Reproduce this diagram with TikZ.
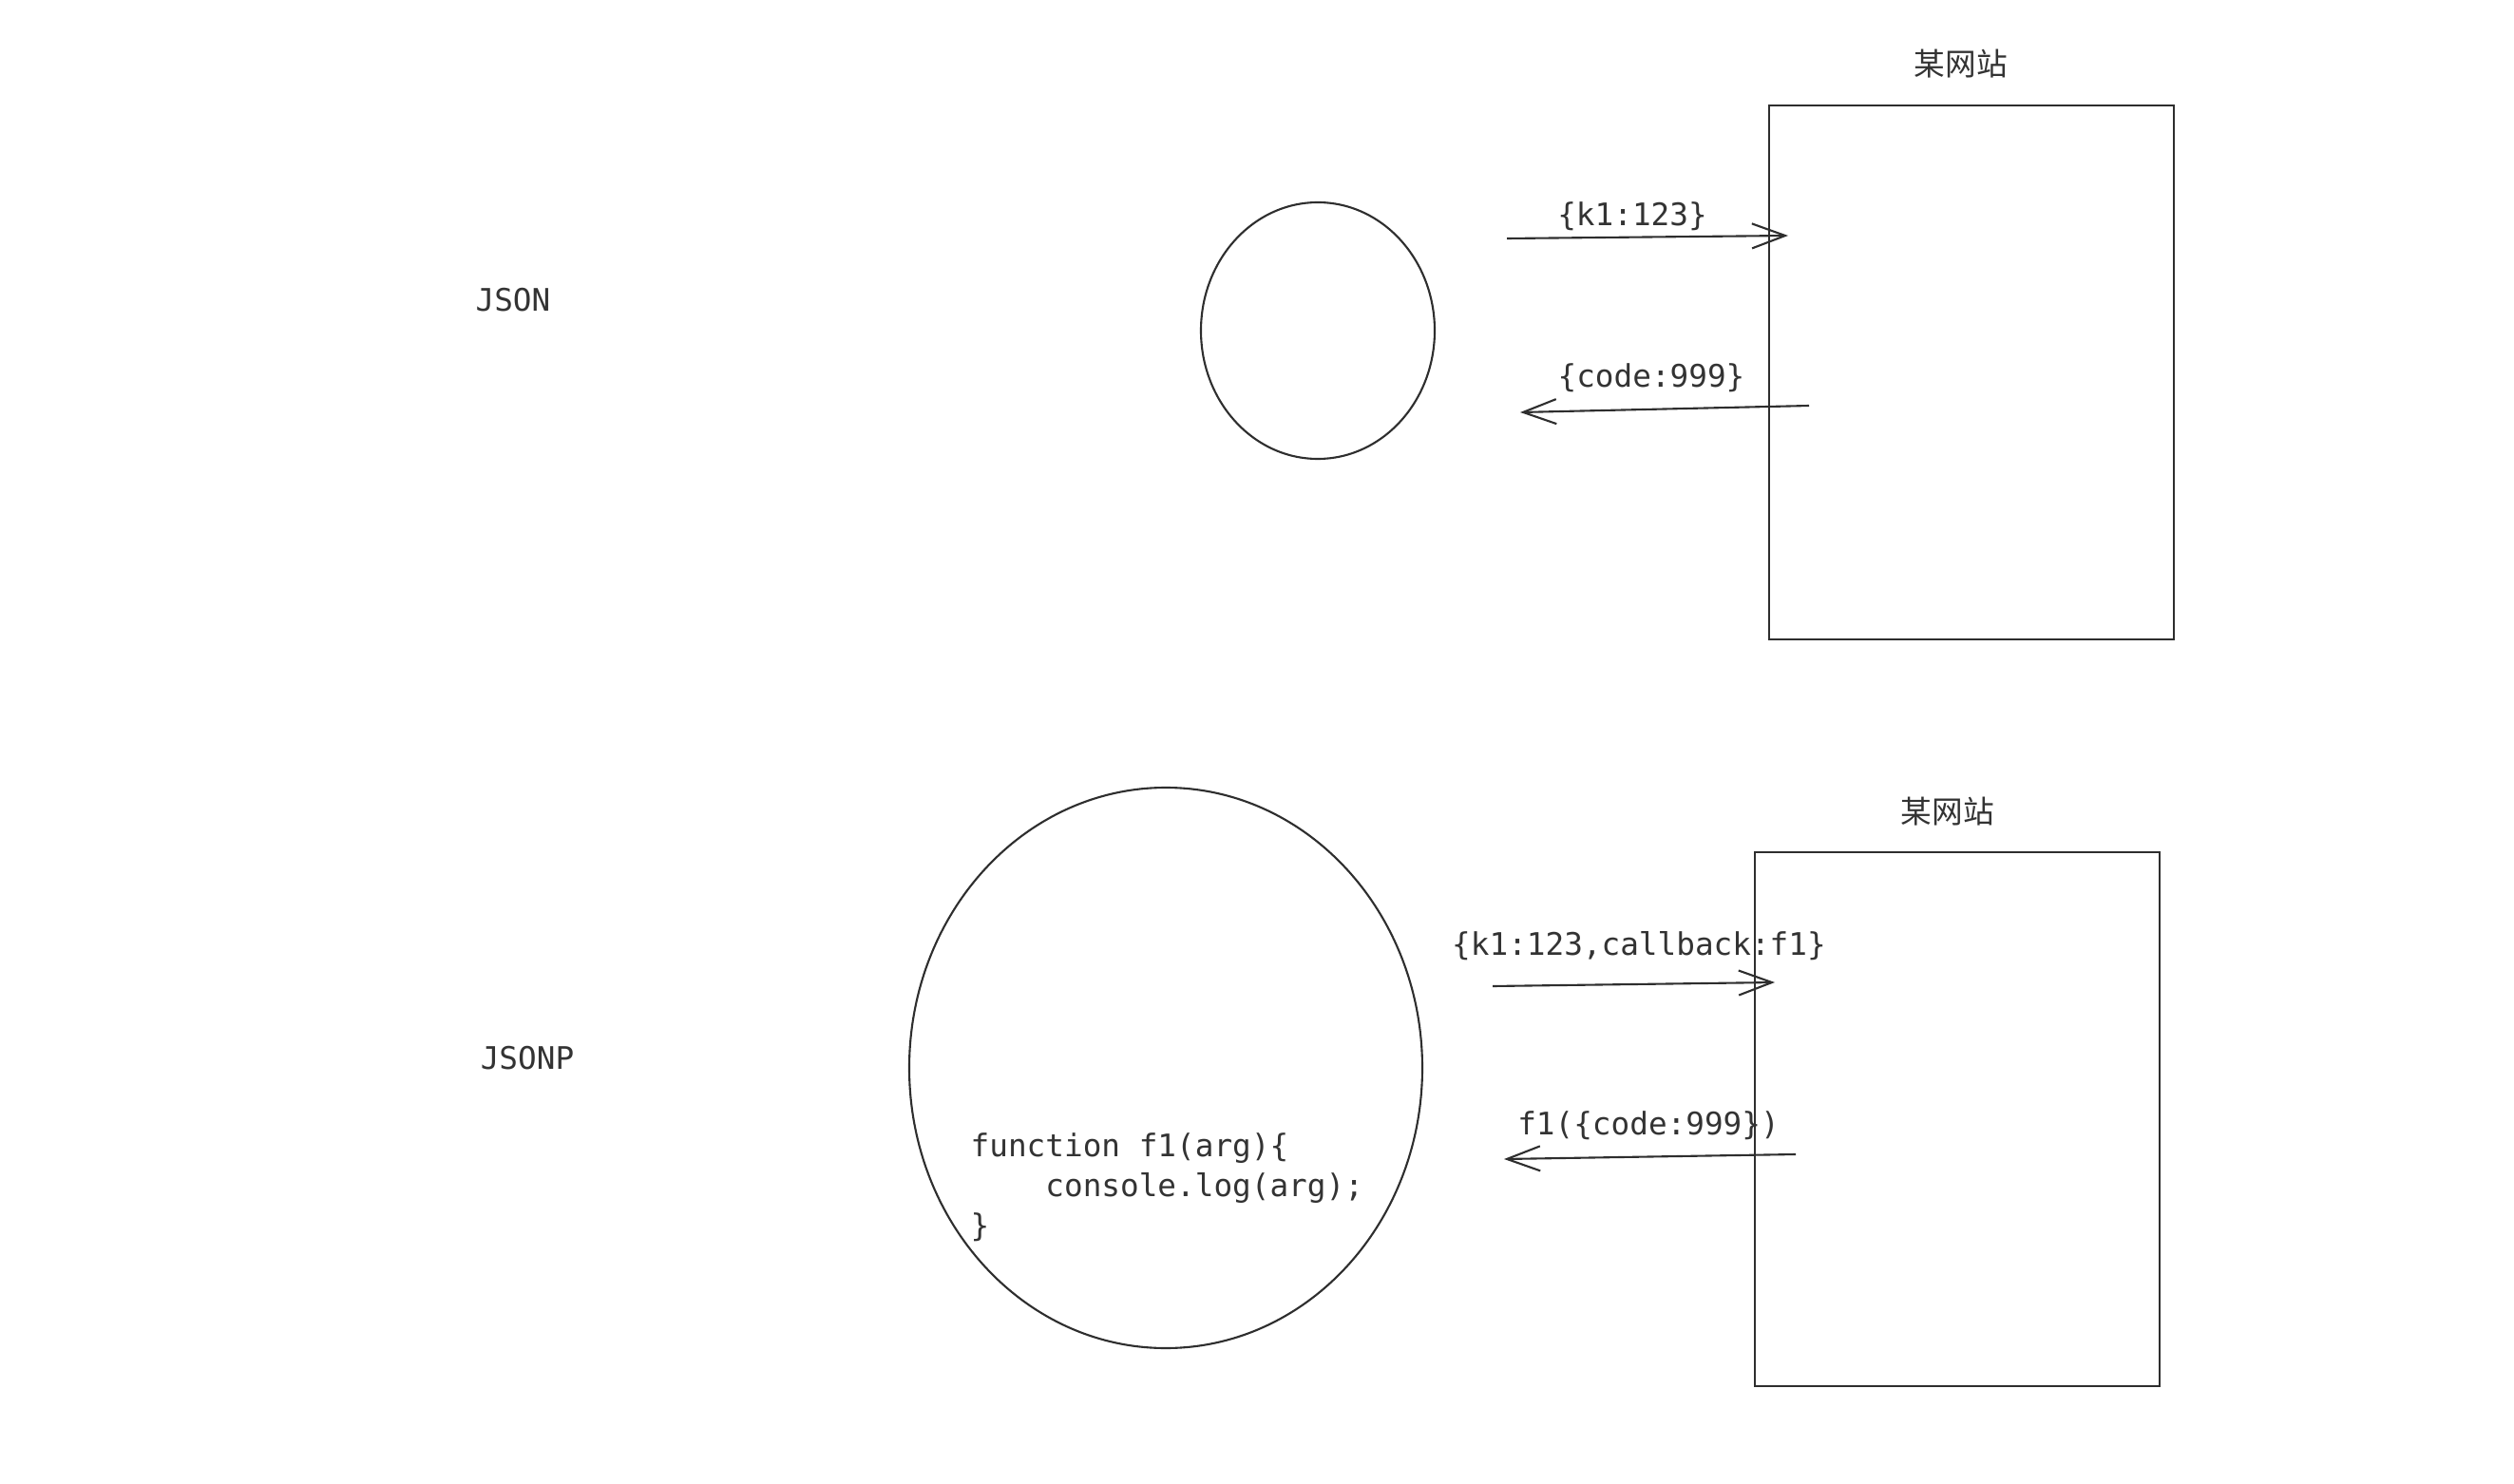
\documentclass[tikz,border=0pt]{standalone}
\usepackage{fontspec}
\setmonofont{DejaVu Sans Mono}
\newfontfamily\cjk{Noto Sans CJK SC}
\usetikzlibrary{arrows.meta,shapes.geometric}
\definecolor{ink}{HTML}{2E2E2E}
\definecolor{txt}{HTML}{333333}
\tikzset{
  lbl/.style={text=txt,font=\ttfamily\fontsize{9.3}{12}\selectfont,inner sep=0pt},
  site/.style={text=txt,font=\cjk\fontsize{9.3}{11}\selectfont,inner sep=0pt},
  page/.style={draw=ink,line width=0.6pt,minimum width=4.26cm,minimum height=5.62cm,inner sep=0pt},
  blob/.style={draw=ink,line width=0.6pt,ellipse,inner sep=0pt},
  msg/.style={draw=ink,line width=0.6pt,-{Straight Barb[length=3.5mm,width=2.6mm]}}
}
\begin{document}
\begin{tikzpicture}
        \useasboundingbox (0,0) rectangle (26.46,-15.62);
        % JSON
        \node[lbl] (J) at (5.40,-3.16) {JSON};
        \node[blob,minimum width=2.46cm,minimum height=2.70cm] (C1) at (13.87,-3.48) {};
        \node[page,anchor=north west] (R1) at (18.61,-1.10) {};
        \node[site] (S1) at (20.64,-0.67) {某网站};
        \coordinate (a1) at (15.86,-2.51);
        \coordinate (b1) at (18.82,-2.48);
        \coordinate (a2) at (19.04,-4.27);
        \coordinate (b2) at (16.00,-4.34);
        \node[lbl] (K1) at (17.18,-2.28) {\{k1:123\}};
        \node[lbl] (D1) at (17.38,-3.98) {\{code:999\}};

        \draw[msg] (a1) -- (b1);
        \draw[msg] (a2) -- (b2);

        % JSONP
        \node[lbl] (JP) at (5.55,-11.14) {JSONP};
        \node[blob,minimum width=5.40cm,minimum height=5.90cm] (C2) at (12.27,-11.24) {};
        \node[lbl,align=left,anchor=west] (F) at (10.21,-12.50)
          {function f1(arg)\{\\\hphantom{func}console.log(arg);\\\}};
        \node[page,anchor=north west] (R2) at (18.46,-8.96) {};
        \node[site] (S2) at (20.50,-8.54) {某网站};
        \coordinate (a3) at (15.71,-10.38);
        \coordinate (b3) at (18.68,-10.34);
        \coordinate (a4) at (18.90,-12.15);
        \coordinate (b4) at (15.83,-12.20);
        \node[lbl] (K2) at (17.25,-9.96) {\{k1:123,callback:f1\}};
        \node[lbl] (D2) at (17.35,-11.85) {f1(\{code:999\})};

        \draw[msg] (a3) -- (b3);
        \draw[msg] (a4) -- (b4);
      \end{tikzpicture}
\end{document}
